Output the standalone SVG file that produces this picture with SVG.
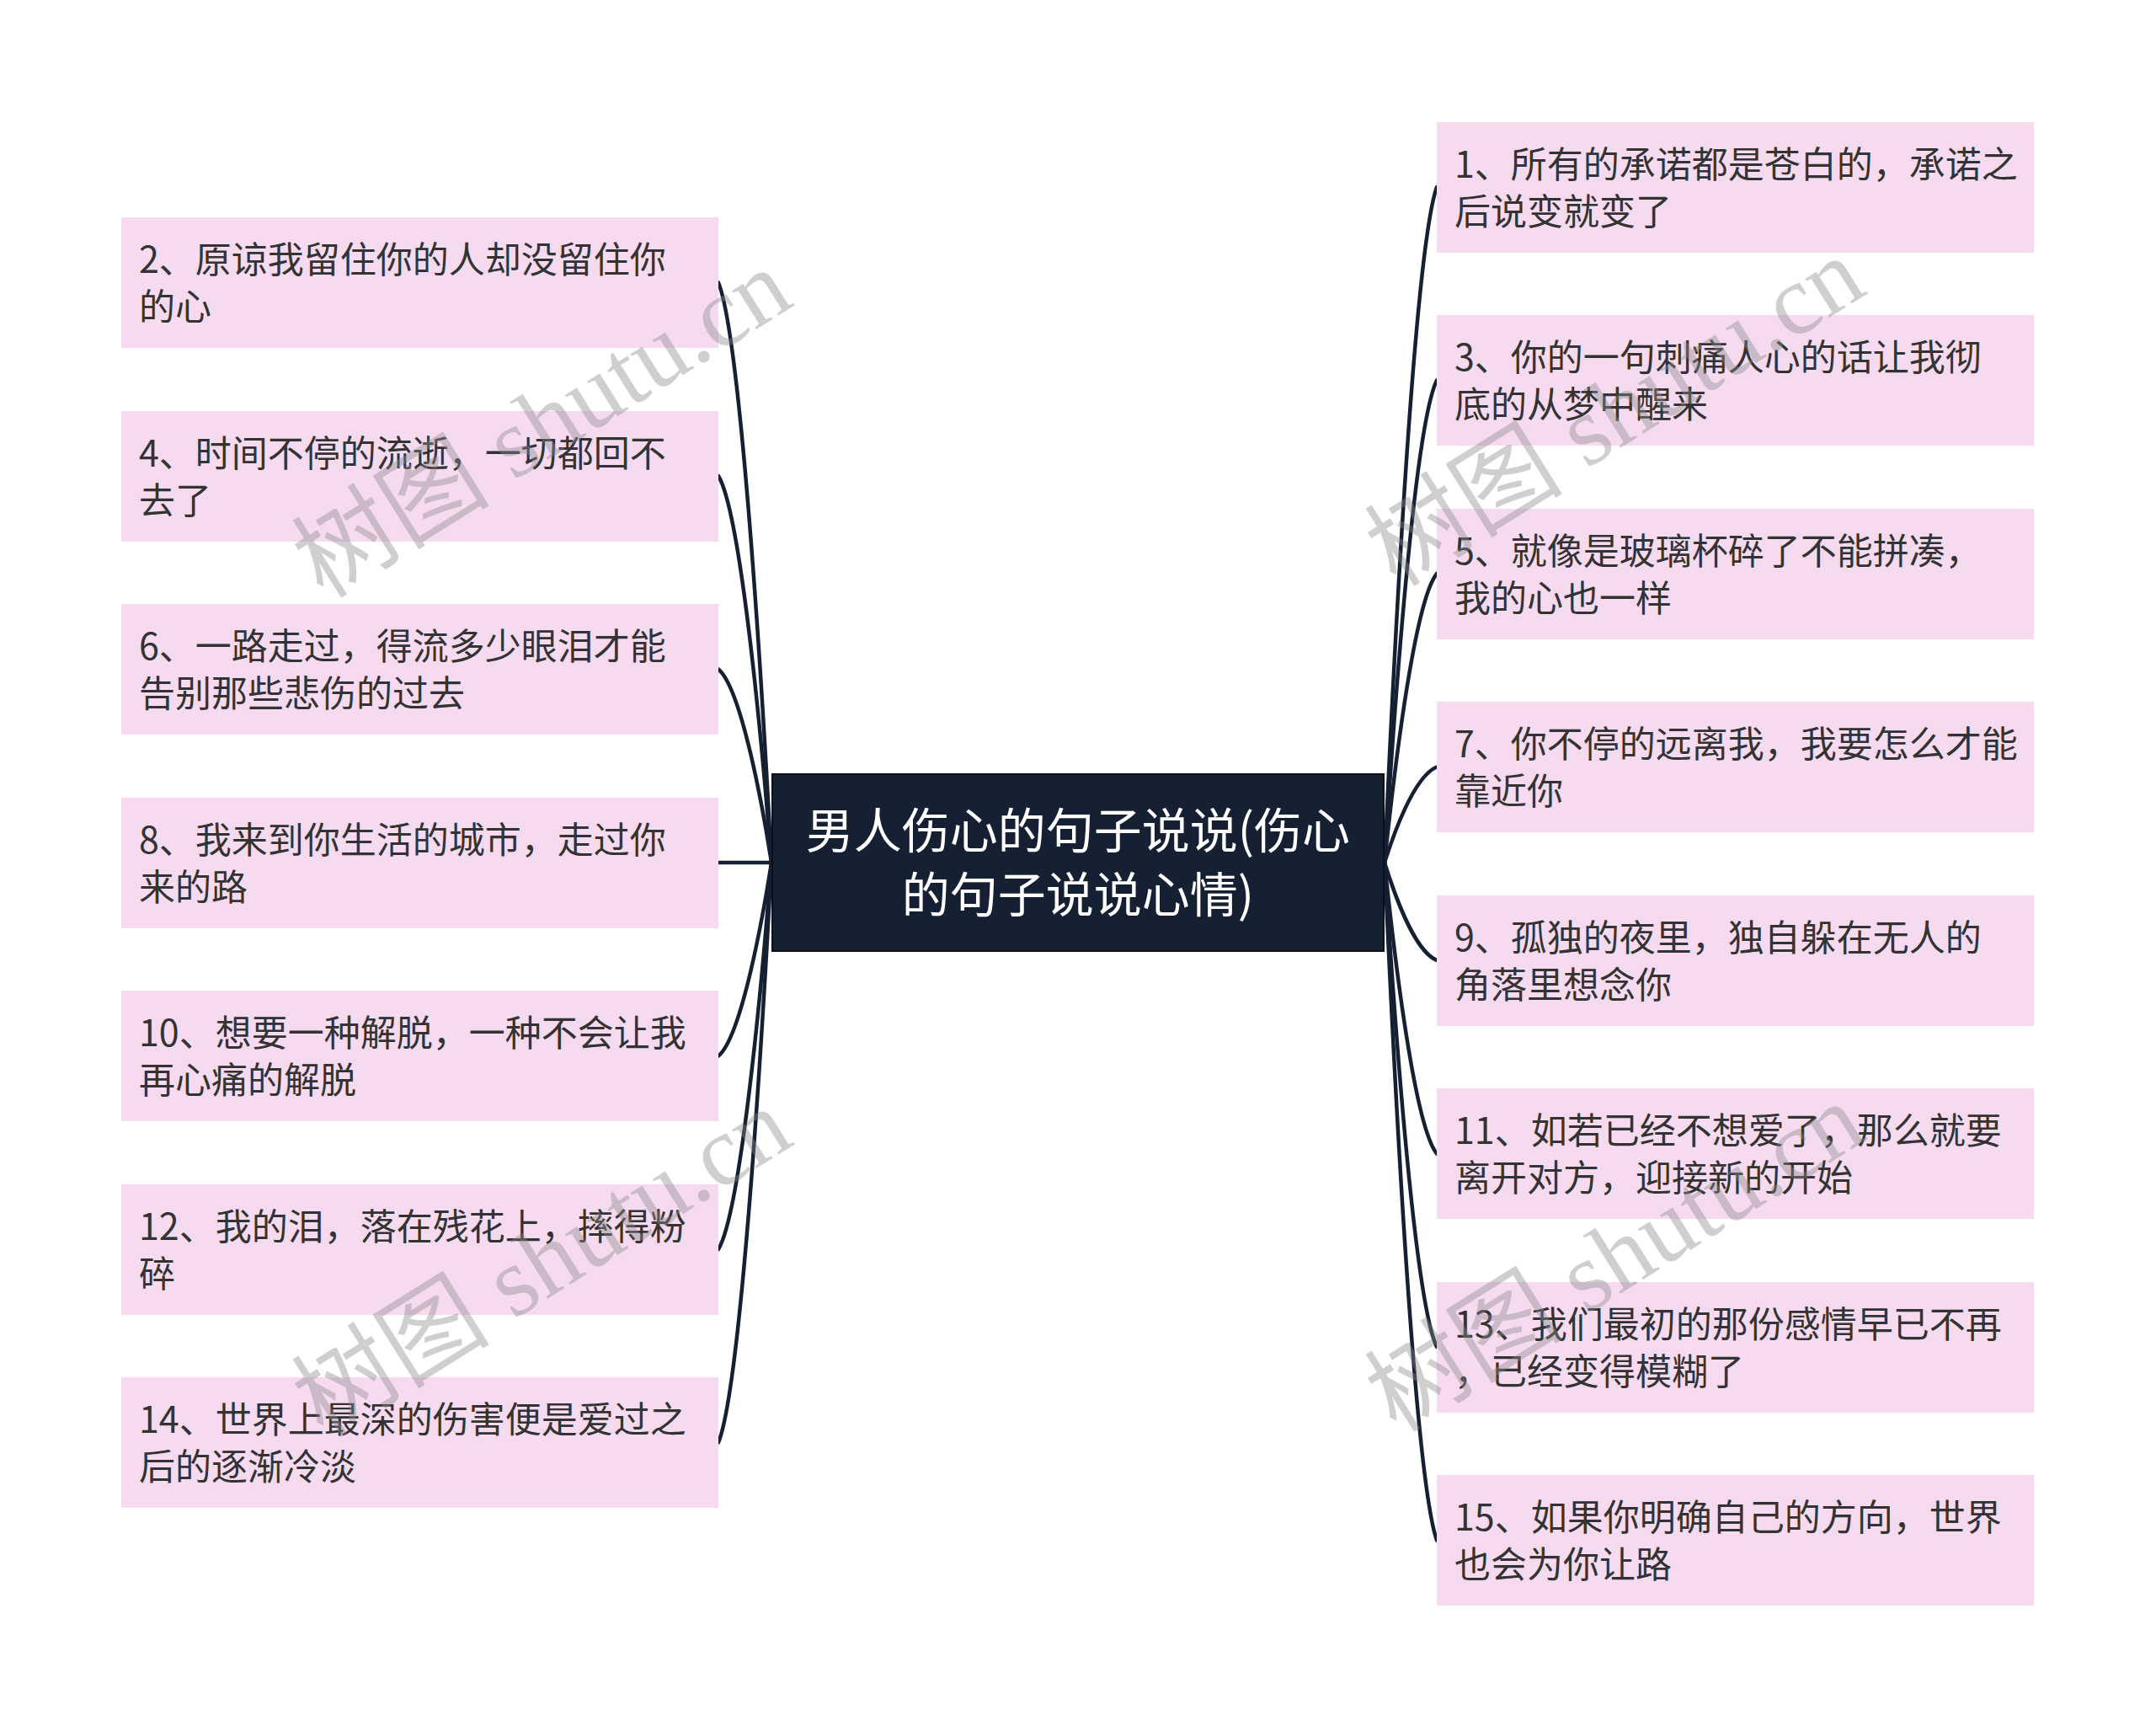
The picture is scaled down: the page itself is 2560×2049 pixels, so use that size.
<svg xmlns="http://www.w3.org/2000/svg" width="2560" height="2049" viewBox="0 0 2560 2049">
<style>
.bg{fill:#ffffff}
.box{fill:#f6daf0}
.t{font-family:"Noto Sans CJK SC","Noto Sans",sans-serif;font-size:43px;fill:#333333;dominant-baseline:central}
.root{fill:#152032;stroke:#0b1018;stroke-width:2}
.rt{font-family:"Noto Sans CJK SC","Noto Sans",sans-serif;font-size:57px;fill:#ffffff;text-anchor:middle;dominant-baseline:central}
.c{fill:none;stroke:#152032;stroke-width:4.5;stroke-linecap:round}
.wm{font-family:"Liberation Serif","Noto Sans CJK SC",serif;font-size:118px;fill:#8a8a8a;opacity:0.4}
</style>
<rect class="bg" x="0" y="0" width="2560" height="2049"/>
<g id="connectors">
<path class="c" d="M853,335.5 C881,404.4 907,851.9 916,1024"/>
<path class="c" d="M853,565 C881,610.9 907,909.25 916,1024"/>
<path class="c" d="M853,794.5 C881,817.5 907,966.6 916,1024"/>
<path class="c" d="M853,1024 L916,1024"/>
<path class="c" d="M853,1253.5 C881,1230.5 907,1081.4 916,1024"/>
<path class="c" d="M853,1483 C881,1437.1 907,1138.75 916,1024"/>
<path class="c" d="M853,1712.5 C881,1643.7 907,1196.1 916,1024"/>
<path class="c" d="M1706,222 C1678,302.2 1653,823.5 1644,1024"/>
<path class="c" d="M1706,451.5 C1678,508.8 1653,880.9 1644,1024"/>
<path class="c" d="M1706,681 C1678,715.3 1653,938.25 1644,1024"/>
<path class="c" d="M1706,910.5 C1678,921.9 1653,995.6 1644,1024"/>
<path class="c" d="M1706,1140 C1678,1128.4 1653,1053 1644,1024"/>
<path class="c" d="M1706,1369.5 C1678,1334.95 1653,1110.4 1644,1024"/>
<path class="c" d="M1706,1599 C1678,1541.5 1653,1167.75 1644,1024"/>
<path class="c" d="M1706,1828.5 C1678,1748.05 1653,1225.1 1644,1024"/>
</g>
<g id="root">
<rect class="root" x="917" y="919" width="726" height="210"/>
<text class="rt" x="1280" y="982">男人伤心的句子说说(伤心</text>
<text class="rt" x="1280" y="1058">的句子说说心情)</text>
</g>
<g id="n2"><rect class="box" x="144" y="258" width="709" height="155"/><text class="t" x="165" y="305">2、原谅我留住你的人却没留住你</text><text class="t" x="165" y="361">的心</text></g>
<g id="n4"><rect class="box" x="144" y="488" width="709" height="155"/><text class="t" x="165" y="535">4、时间不停的流逝，一切都回不</text><text class="t" x="165" y="591">去了</text></g>
<g id="n6"><rect class="box" x="144" y="717" width="709" height="155"/><text class="t" x="165" y="764">6、一路走过，得流多少眼泪才能</text><text class="t" x="165" y="820">告别那些悲伤的过去</text></g>
<g id="n8"><rect class="box" x="144" y="947" width="709" height="155"/><text class="t" x="165" y="994">8、我来到你生活的城市，走过你</text><text class="t" x="165" y="1050">来的路</text></g>
<g id="n10"><rect class="box" x="144" y="1176" width="709" height="155"/><text class="t" x="165" y="1223">10、想要一种解脱，一种不会让我</text><text class="t" x="165" y="1279">再心痛的解脱</text></g>
<g id="n12"><rect class="box" x="144" y="1406" width="709" height="155"/><text class="t" x="165" y="1453">12、我的泪，落在残花上，摔得粉</text><text class="t" x="165" y="1509">碎</text></g>
<g id="n14"><rect class="box" x="144" y="1635" width="709" height="155"/><text class="t" x="165" y="1682">14、世界上最深的伤害便是爱过之</text><text class="t" x="165" y="1738">后的逐渐冷淡</text></g>
<g id="n1"><rect class="box" x="1706" y="145" width="709" height="155"/><text class="t" x="1727" y="192">1、所有的承诺都是苍白的，承诺之</text><text class="t" x="1727" y="248">后说变就变了</text></g>
<g id="n3"><rect class="box" x="1706" y="374" width="709" height="155"/><text class="t" x="1727" y="421">3、你的一句刺痛人心的话让我彻</text><text class="t" x="1727" y="477">底的从梦中醒来</text></g>
<g id="n5"><rect class="box" x="1706" y="604" width="709" height="155"/><text class="t" x="1727" y="651">5、就像是玻璃杯碎了不能拼凑，</text><text class="t" x="1727" y="707">我的心也一样</text></g>
<g id="n7"><rect class="box" x="1706" y="833" width="709" height="155"/><text class="t" x="1727" y="880">7、你不停的远离我，我要怎么才能</text><text class="t" x="1727" y="936">靠近你</text></g>
<g id="n9"><rect class="box" x="1706" y="1063" width="709" height="155"/><text class="t" x="1727" y="1110">9、孤独的夜里，独自躲在无人的</text><text class="t" x="1727" y="1166">角落里想念你</text></g>
<g id="n11"><rect class="box" x="1706" y="1292" width="709" height="155"/><text class="t" x="1727" y="1339">11、如若已经不想爱了，那么就要</text><text class="t" x="1727" y="1395">离开对方，迎接新的开始</text></g>
<g id="n13"><rect class="box" x="1706" y="1522" width="709" height="155"/><text class="t" x="1727" y="1569">13、我们最初的那份感情早已不再</text><text class="t" x="1727" y="1625">，已经变得模糊了</text></g>
<g id="n15"><rect class="box" x="1706" y="1751" width="709" height="155"/><text class="t" x="1727" y="1798">15、如果你明确自己的方向，世界</text><text class="t" x="1727" y="1854">也会为你让路</text></g>
<g id="watermark">
<text class="wm" transform="translate(384,712) rotate(-32)">树图 shutu.cn</text>
<text class="wm" transform="translate(1658,698) rotate(-32)">树图 shutu.cn</text>
<text class="wm" transform="translate(384,1708) rotate(-32)">树图 shutu.cn</text>
<text class="wm" transform="translate(1658,1702) rotate(-32)">树图 shutu.cn</text>
</g>
</svg>
